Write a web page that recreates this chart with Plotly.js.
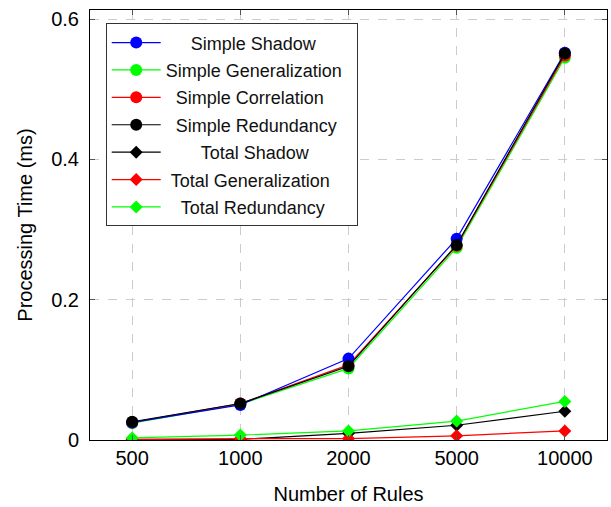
<!DOCTYPE html>
<html>
<head>
<meta charset="utf-8">
<script src="https://cdn.plot.ly/plotly-3.0.1.min.js"></script>
<style>html,body{margin:0;padding:0;background:#fff;}#chart{width:611px;height:507px;}</style>
</head>
<body>
<div id="chart"></div>
<script>
const categories = ["500", "1000", "2000", "5000", "10000"];
const simpleShadow = [0.025, 0.050, 0.116, 0.287, 0.552];
const simpleGeneralization = [0.024, 0.051, 0.102, 0.274, 0.545];
const simpleCorrelation = [0.025, 0.052, 0.107, 0.277, 0.548];
const simpleRedundancy = [0.026, 0.052, 0.105, 0.278, 0.551];
const totalShadow = [0.001, 0.001, 0.0095, 0.021, 0.041];
const totalGeneralization = [0.0005, 0.002, 0.002, 0.006, 0.013];
const totalRedundancy = [0.003, 0.007, 0.013, 0.027, 0.055];

const seriesNames = ["Simple Shadow", "Simple Generalization", "Simple Correlation", "Simple Redundancy",
  "Total Shadow", "Total Generalization", "Total Redundancy"];
const pads = [5, 0, 2, 2, 7, 1, 3];

function pad(name, n, i) { return "\u00a0".repeat(n) + name + (i === 1 ? "\u2002" : ""); }

const specs = [
  [simpleShadow, "#0000ff", "circle", 12],
  [simpleGeneralization, "#00ff00", "circle", 12],
  [simpleCorrelation, "#ff0000", "circle", 12],
  [simpleRedundancy, "#000000", "circle", 12],
  [totalShadow, "#000000", "diamond", 10],
  [totalGeneralization, "#ff0000", "diamond", 10],
  [totalRedundancy, "#00ff00", "diamond", 10]
];

const traces = specs.map((s, i) => ({
  x: categories, y: s[0], type: "scatter", mode: "lines+markers",
  name: pad(seriesNames[i], pads[i], i),
  legendrank: i + 1, legendgroup: "g" + i,
  line: {color: s[1], width: 1.2},
  marker: {color: s[1], symbol: s[2], size: s[3], line: {width: 0}}
}));

// draw order: keep black simple on top of others
const order = [1, 2, 0, 3, 4, 5, 6];
const data = order.map(i => traces[i]);

const layout = {
  width: 611, height: 507,
  margin: {l: 90, r: 4, t: 10, b: 67},
  paper_bgcolor: "#fff", plot_bgcolor: "#fff",
  font: {family: "Liberation Sans, Arial, sans-serif", size: 20, color: "#000"},
  showlegend: true,
  legend: {
    x: 0.0304, y: 0.969, xanchor: "left", yanchor: "top",
    bgcolor: "#fff", bordercolor: "#333", borderwidth: 1,
    font: {size: 18, color: "#111"}, itemwidth: 49, traceorder: "grouped",
    tracegroupgap: 1
  },
  xaxis: {
    type: "category", range: [-0.39, 4.39],
    showgrid: true, gridcolor: "#cccccc", griddash: "dash", gridwidth: 1,
    showline: true, linecolor: "#000", linewidth: 1, mirror: "ticks",
    ticks: "inside", ticklen: 5, tickcolor: "#555",
    tickfont: {size: 20}, zeroline: false,
    title: {text: "Number of Rules", font: {size: 20}, standoff: 18}
  },
  yaxis: {
    range: [0, 0.6129], tickvals: [0, 0.2, 0.4, 0.6], ticktext: ["0", "0.2", "0.4", "0.6"],
    showgrid: true, gridcolor: "#cccccc", griddash: "dash", gridwidth: 1,
    showline: true, linecolor: "#000", linewidth: 1, mirror: "ticks",
    ticks: "inside", ticklen: 5, tickcolor: "#555",
    tickfont: {size: 20}, zeroline: false, ticklabelstandoff: 6,
    title: {text: "Processing Time (ms)", font: {size: 20}, standoff: 13}
  }
};

Plotly.newPlot("chart", data, layout, {displayModeBar: false, staticPlot: true});
</script>
</body>
</html>
